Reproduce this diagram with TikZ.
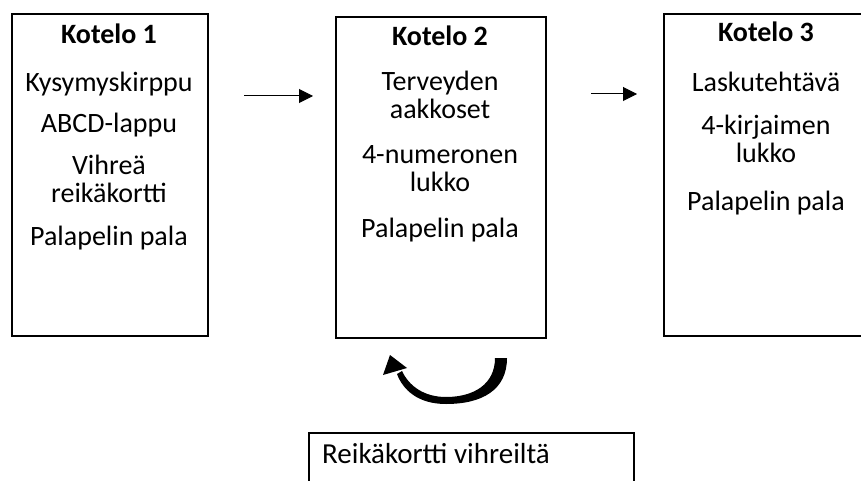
\documentclass[tikz,border=0pt]{standalone}
\usepackage{fontspec}
\setmainfont{Carlito}
\usetikzlibrary{positioning,calc,arrows.meta}

\begin{document}
\begin{tikzpicture}[x=1pt, y=-1pt,
        kotelo/.style={rectangle, draw=black, line width=2pt, inner sep=0pt},
        head/.style={anchor=base, font=\fontsize{28}{28}\selectfont\bfseries, inner sep=0pt},
        item/.style={anchor=base, font=\fontsize{28}{28}\selectfont, align=center, inner sep=0pt},
        arrow/.style={-{Triangle[length=14pt, width=14pt]}, line width=1pt},
      ]
      \clip (0,0) rectangle (861,481);
      % Kotelo 1
      \node [kotelo, minimum width=196pt, minimum height=322pt, anchor=north west] (box1) at (11,13) {};
      \node [head] (h1) at (109,44) {Kotelo 1};
      \node [item] (k1a) at (109,92) {Kysymyskirppu};
      \node [item] (k1b) at (109,133) {ABCD-lappu};
      \node [item] (k1c) at (109,202) {Vihreä\\reikäkortti};
      \node [item] (k1d) at (109,245) {Palapelin pala};
      % Kotelo 2
      \node [kotelo, minimum width=210pt, minimum height=321pt, anchor=north west] (box2) at (335,16) {};
      \node [head] (h2) at (440,46) {Kotelo 2};
      \node [item] (k2a) at (440,119) {Terveyden\\aakkoset};
      \node [item] (k2b) at (440,191) {4-numeronen\\lukko};
      \node [item] (k2c) at (440,237) {Palapelin pala};
      % Kotelo 3
      \node [kotelo, minimum width=206pt, minimum height=322pt, anchor=north west] (box3) at (663,13) {};
      \node [head] (h3) at (766,42) {Kotelo 3};
      \node [item] (k3a) at (766,92) {Laskutehtävä};
      \node [item] (k3b) at (766,163) {4-kirjaimen\\lukko};
      \node [item] (k3c) at (766,210) {Palapelin pala};
      % alalaatikko
      \node [kotelo, minimum width=325pt, minimum height=80pt, anchor=north west] (box4) at (308,432) {};
      \node [item, anchor=base west, font=\fontsize{29}{29}\selectfont] (k4) at (322,463) {Reikäkortti vihreiltä};
      % nuolet
      \coordinate (a1s) at (244,96);
      \coordinate (a1e) at (313,96);
      \coordinate (a2s) at (591,94);
      \coordinate (a2e) at (637,94);
      \draw [arrow] (a1s) -- (a1e);
      \draw [arrow] (a2s) -- (a2e);
      % kaareva nuoli
      \fill (507,358) .. controls (507,390) and (482,404) .. (446,404)
            .. controls (418,404) and (403,390) .. (397,374)
            -- (402,371) .. controls (409,386) and (424,397) .. (446,397)
            .. controls (474,397) and (495,384) .. (495,358) -- cycle;
      \fill (390,355) -- (383,375) -- (407,368) -- cycle;
    \end{tikzpicture}
\end{document}
